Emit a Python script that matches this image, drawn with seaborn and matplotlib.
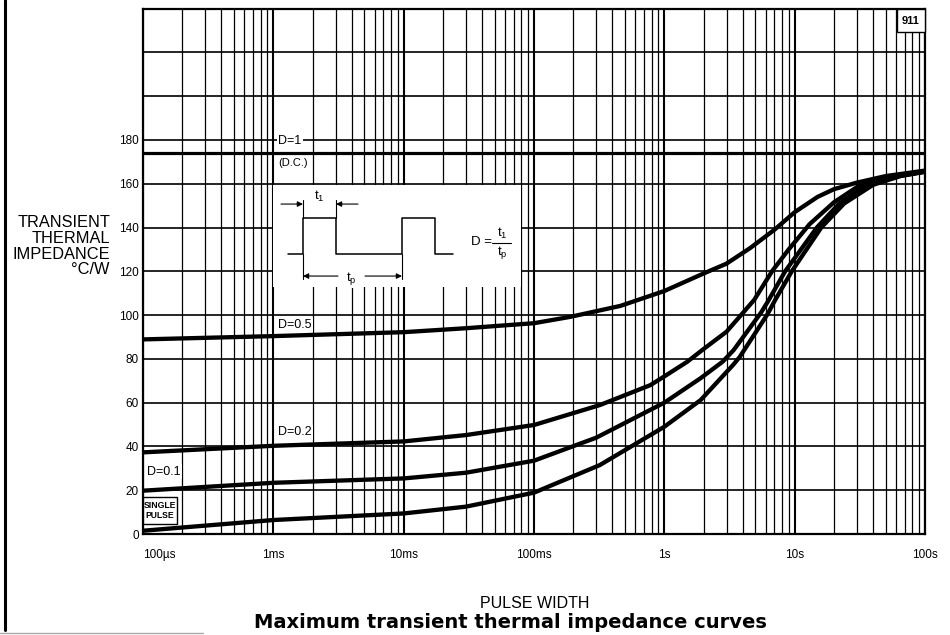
import numpy as np
import pandas as pd
import matplotlib
matplotlib.use("Agg")
import matplotlib.pyplot as plt
import seaborn as sns
from matplotlib.patches import Rectangle
from matplotlib.lines import Line2D
from matplotlib.ticker import FixedLocator, LogLocator, NullFormatter

sns.set_theme(style="white")
plt.rcParams['font.family'] = ['Liberation Sans', 'DejaVu Sans']
plt.rcParams['mathtext.fontset'] = 'custom'
plt.rcParams['mathtext.rm'] = 'Liberation Sans'
plt.rcParams['mathtext.it'] = 'Liberation Sans'
for k in ['text.color', 'axes.labelcolor', 'xtick.color', 'ytick.color']:
    plt.rcParams[k] = 'black'

# ---------------- data ----------------
dc_level = 174.0  # D = 1 (D.C.)

t_d05 = [1e-4, 1e-3, 1e-2, 3e-2, 0.1, 0.19, 0.46, 1, 2, 3, 4.55, 7, 10, 15, 20, 30, 50, 100]
z_d05 = [88.9, 90.4, 92.2, 94.0, 96.3, 99.2, 104.2, 111, 119, 123.5, 130.6, 139, 147, 154, 157.5, 160.5, 163.5, 166]

t_d02 = [1e-4, 1e-3, 1e-2, 3e-2, 0.1, 0.32, 0.78, 1, 1.5, 2, 3, 4.9, 6.7, 9, 13, 20, 31, 50, 100]
z_d02 = [37.3, 40.3, 42.3, 45.2, 49.8, 58.9, 68, 72, 78.7, 84.5, 92.4, 107, 120, 130, 141.5, 151.5, 159, 162.5, 165.5]

t_d01 = [1e-4, 1e-3, 1e-2, 3e-2, 0.1, 0.3, 1, 1.9, 2.8, 3.4, 5.5, 6.2, 8.45, 14.8, 22, 36, 60, 100]
z_d01 = [19.8, 23.4, 25.4, 28.0, 33.5, 44, 60, 71.2, 78.7, 84, 101, 106, 120, 140, 151, 159.5, 163.5, 165.5]

t_single = [1e-4, 1e-3, 1e-2, 3e-2, 0.1, 0.32, 1, 1.9, 3.4, 3.8, 6.2, 7.1, 9.5, 16, 24, 40, 65, 100]
z_single = [1.5, 6.4, 9.4, 12.5, 18.9, 31.5, 49, 61.2, 77.5, 81, 100.5, 107, 120, 140, 151, 159.5, 163.5, 165.5]

curve_names = ["D=0.5", "D=0.2", "D=0.1", "SINGLE PULSE"]

x_tick_vals = [1e-4, 1e-3, 1e-2, 1e-1, 1, 10, 100]
x_tick_labels = ["100\u00b5s", "1ms", "10ms", "100ms", "1s", "10s", "100s"]
y_grid_vals = list(range(0, 241, 20))
y_label_max = 180

# ---------------- figure ----------------
fig = plt.figure(figsize=(9.5, 6.35), dpi=100)
ax = fig.add_axes([0.1505, 0.159, 0.8232, 0.8275])

df = pd.concat([
    pd.DataFrame({"t": t_d05, "z": z_d05, "curve": curve_names[0]}),
    pd.DataFrame({"t": t_d02, "z": z_d02, "curve": curve_names[1]}),
    pd.DataFrame({"t": t_d01, "z": z_d01, "curve": curve_names[2]}),
    pd.DataFrame({"t": t_single, "z": z_single, "curve": curve_names[3]}),
])

sns.lineplot(data=df, x="t", y="z", hue="curve",
             palette={n: "black" for n in curve_names},
             legend=False, sort=False, estimator=None,
             lw=3.1, ax=ax, zorder=3)
ax.axhline(dc_level, color="black", lw=2.3, zorder=3)

ax.set_xscale("log")
ax.set_xlim(1e-4, 100)
ax.set_ylim(0, 240)

ax.xaxis.set_major_locator(FixedLocator(x_tick_vals))
ax.xaxis.set_minor_locator(LogLocator(base=10, subs=range(2, 10)))
ax.xaxis.set_minor_formatter(NullFormatter())
ax.set_xticklabels(x_tick_labels, fontsize=8.5)
ax.get_xticklabels()[0].set_horizontalalignment("left")
ax.set_yticks(y_grid_vals)
ax.set_yticklabels([str(v) if v <= y_label_max else "" for v in y_grid_vals], fontsize=8.5)
ax.tick_params(axis="both", which="both", length=0)
ax.tick_params(axis="x", pad=11)
ax.tick_params(axis="y", pad=3)

ax.set_axisbelow(True)
ax.grid(True, which="major", axis="x", color="black", lw=1.5)
ax.grid(True, which="minor", axis="x", color="black", lw=0.9)
ax.grid(True, which="major", axis="y", color="black", lw=1.2)
ax.set_xlabel("")
ax.set_ylabel("")
for s in ax.spines.values():
    s.set_color("black")
    s.set_linewidth(1.6)

# white area behind the pulse diagram
ax.add_patch(Rectangle((1.0e-3, 113), 0.08 - 1.0e-3, 46.5, facecolor="white",
                       edgecolor="none", zorder=1))

# curve labels
lab_kw = dict(fontsize=9, ha="left", va="center", zorder=4,
              bbox=dict(facecolor="white", edgecolor="none", pad=1.0))
ax.text(1.09e-3, 179.5, "D=1", **lab_kw)
ax.text(1.09e-3, 169.5, "(D.C.)", fontsize=8, ha="left", va="center", zorder=4)
ax.text(1.09e-3, 95.5, "D=0.5", **lab_kw)
ax.text(1.09e-3, 46.5, "D=0.2", **lab_kw)
ax.text(1.08e-4, 28.5, "D=0.1", **lab_kw)

# SINGLE PULSE box
ax.add_patch(Rectangle((0.0, 0.019), 0.0435, 0.0515, transform=ax.transAxes,
                       facecolor="white", edgecolor="black", lw=1.0, zorder=4))
ax.text(0.0218, 0.0448, "SINGLE\nPULSE", transform=ax.transAxes, fontsize=6.2,
        fontweight="bold", ha="center", va="center", linespacing=1.15, zorder=5)

# "911" box
ax.add_patch(Rectangle((0.964, 0.955), 0.036, 0.045, transform=ax.transAxes,
                       facecolor="white", edgecolor="black", lw=1.0, zorder=4, clip_on=False))
ax.text(0.982, 0.977, "911", transform=ax.transAxes, fontsize=8, fontweight="bold",
        ha="center", va="center", zorder=5)

# ---------------- pulse diagram (annotation, pixel-style coordinates) ----------------
def P(px, py):
    return ((px - 143) / 782.0, (534 - py) / 525.5)

def seg(pts, lw=1.0):
    xs, ys = zip(*[P(*p) for p in pts])
    ax.add_line(Line2D(xs, ys, transform=ax.transAxes, color="black", lw=lw, zorder=4))

seg([(288, 254), (303, 254), (303, 218), (336, 218), (336, 254), (402, 254),
     (402, 218), (435, 218), (435, 254), (453, 254)], lw=1.1)
seg([(303, 254), (303, 279)], lw=0.8)
seg([(402, 254), (402, 279)], lw=0.8)
seg([(303, 218), (303, 200)], lw=0.8)
seg([(336, 218), (336, 200)], lw=0.8)

def arrow(p_from, p_to):
    ax.annotate("", xy=P(*p_to), xytext=P(*p_from), xycoords="axes fraction",
                textcoords="axes fraction", zorder=4,
                arrowprops=dict(arrowstyle="-|>", color="black", lw=0.8,
                                mutation_scale=8, shrinkA=0, shrinkB=0))

arrow((281, 204), (303, 204))
arrow((358, 204), (336, 204))
arrow((338, 276), (303, 276))
arrow((365, 276), (402, 276))
ax.text(*P(319, 196), r"t$_1$", transform=ax.transAxes, fontsize=9.5,
        ha="center", va="center", zorder=5)
ax.text(*P(351, 278), r"t$_\mathrm{p}$", transform=ax.transAxes, fontsize=9.5,
        ha="center", va="center", zorder=5,
        bbox=dict(facecolor="white", edgecolor="none", pad=1.0))
# D = t1 / tp
ax.text(*P(482, 242), "D =", transform=ax.transAxes, fontsize=9.5,
        ha="center", va="center", zorder=5)
seg([(492, 242.5), (511, 242.5)], lw=0.8)
ax.text(*P(502, 233), r"t$_1$", transform=ax.transAxes, fontsize=9.5,
        ha="center", va="center", zorder=5)
ax.text(*P(502, 252), r"t$_\mathrm{p}$", transform=ax.transAxes, fontsize=9.5,
        ha="center", va="center", zorder=5)

# ---------------- texts around the axes ----------------
for txt, ypx in [("TRANSIENT", 223), ("THERMAL", 239), ("IMPEDANCE", 255), ("\u00b0C/W", 270)]:
    fig.text(110 / 950, 1 - ypx / 635, txt, fontsize=11.8, ha="right", va="center")

fig.text(535 / 950, 1 - 604 / 635, "PULSE WIDTH", fontsize=11.5, ha="center", va="center")
fig.text(510 / 950, 1 - 622 / 635, "Maximum transient thermal impedance curves",
         fontsize=14.0, fontweight="bold", family=["DejaVu Sans"], ha="center", va="center")

# scan border artefacts
fig.add_artist(Line2D([4.5 / 950, 4.5 / 950], [1 - 630 / 635, 1.0], transform=fig.transFigure,
                      color="black", lw=2.2))
fig.add_artist(Line2D([0, 203 / 950], [1 - 633 / 635, 1 - 633 / 635], transform=fig.transFigure,
                      color="#aaaaaa", lw=1.0))

fig.savefig("out.png", dpi=100, facecolor="white")
